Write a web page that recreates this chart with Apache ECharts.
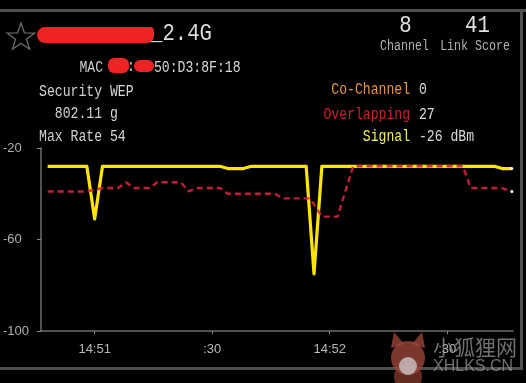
<!DOCTYPE html>
<html><head><meta charset="utf-8">
<script src="https://cdn.jsdelivr.net/npm/echarts@6/dist/echarts.min.js"></script>
<style>html,body{margin:0;padding:0;background:#000;}#c{width:526px;height:383px;}</style>
</head><body><div id="c"></div>
<script>
// time in seconds relative to 14:51:00
const tickTimes = [0, 30, 60, 90];
const tickLabels = ['14:51', ':30', '14:52', ':30'];

const signalTimes  = [-12, -2, 0, 2, 32, 34, 38, 40, 54, 56, 58, 102, 104, 106.5];
const signalValues = [-28, -28, -51, -28, -28, -29, -29, -28, -28, -75, -28, -28, -29, -29];

const noiseTimes  = [-12, -2, 2, 6, 8, 10, 14, 16, 22, 24, 26, 32, 34, 46, 48, 55, 58, 62, 66, 94, 96, 104, 106.5];
const noiseValues = [-39, -39, -37.5, -37.5, -35, -37.5, -37.5, -35, -35, -39, -37.5, -37.5, -40, -40, -42, -42, -50, -50, -28, -28, -37.5, -37.5, -39];

function toData(ts, vs) {
  return ts.map((t, i) => [t, vs[i]]);
}

const chart = echarts.init(document.getElementById('c'), null, {renderer: 'canvas'});

function txt(text, x, y, size, color, align, sx, family) {
  return {
    type: 'text', x: x, y: y, scaleX: sx || 1, z: 10,
    style: {
      text: text, x: 0, y: 0,
      font: size + 'px ' + (family || '"Liberation Mono", monospace'),
      fill: color, align: align || 'left', verticalAlign: 'middle'
    }
  };
}

// star outline
const starPts = [];
for (let k = 0; k < 10; k++) {
  const r = k % 2 === 0 ? 14.5 : 5.8;
  const a = -Math.PI / 2 + k * Math.PI / 5;
  starPts.push([21 + r * Math.cos(a), 37.5 + r * Math.sin(a)]);
}

const S = 0.82;
const graphics = [
  {type: 'rect', shape: {x: 0, y: 9, width: 526, height: 3}, style: {fill: '#4e4e4e'}},
  {type: 'rect', shape: {x: 520, y: 9, width: 3, height: 361}, style: {fill: '#4e4e4e'}},
  {type: 'rect', shape: {x: 0, y: 367, width: 523, height: 3}, style: {fill: '#4e4e4e'}},
  {type: 'polygon', shape: {points: starPts}, style: {fill: 'none', stroke: '#6a6a6a', lineWidth: 1.3}},
  txt('_2.4G', 150, 34, 24, '#dcdcdc', 'left', 0.86),
  {type: 'rect', z: 11, shape: {x: 37, y: 27, width: 117, height: 16, r: [8, 4, 7, 8]}, style: {fill: '#ee2424'}},
  txt('8', 405.5, 26, 23, '#e0e0e0', 'center', 0.9),
  txt('41', 477.5, 26, 23, '#e0e0e0', 'center', 0.9),
  txt('Channel', 404.5, 46, 14, '#b4b4b4', 'center', 0.83),
  txt('Link Score', 475, 46, 14, '#b4b4b4', 'center', 0.83),
  txt('MAC', 103, 68, 16, '#d0d0d0', 'right', S),
  txt(':', 131, 67, 16, '#d0d0d0', 'center', S),
  txt('50:D3:8F:18', 154, 68, 16, '#d8d8d8', 'left', S),
  {type: 'rect', z: 11, shape: {x: 108, y: 58, width: 21, height: 15, r: 6}, style: {fill: '#ee2424'}},
  {type: 'rect', z: 11, shape: {x: 134, y: 60, width: 20, height: 12, r: 6}, style: {fill: '#ee2424'}},
  txt('Security', 102, 92, 16, '#d0d0d0', 'right', S),
  txt('WEP', 110, 92, 16, '#d8d8d8', 'left', S),
  txt('802.11', 102, 114, 16, '#d0d0d0', 'right', S),
  txt('g', 110, 114, 16, '#d8d8d8', 'left', S),
  txt('Max Rate', 102, 137, 16, '#d0d0d0', 'right', S),
  txt('54', 110, 137, 16, '#d8d8d8', 'left', S),
  txt('Co-Channel', 410, 90, 16, '#ec9440', 'right', S),
  txt('0', 419, 90, 16, '#d8d8d8', 'left', S),
  txt('Overlapping', 410, 115, 16, '#d0202c', 'right', S),
  txt('27', 419, 115, 16, '#d8d8d8', 'left', S),
  txt('Signal', 410, 137, 16, '#f4f050', 'right', S),
  txt('-26 dBm', 419, 137, 16, '#d8d8d8', 'left', S),
  // watermark (fox head + site name)
  {type: 'polygon', z: 20, shape: {points: [[391, 348], [394, 332], [404, 344]]}, style: {fill: '#a44a3c', opacity: 0.75}},
  {type: 'polygon', z: 20, shape: {points: [[425, 348], [422, 332], [412, 344]]}, style: {fill: '#a44a3c', opacity: 0.75}},
  {type: 'circle', z: 20, shape: {cx: 408, cy: 358}, style: {fill: '#a44a3c', opacity: 0.75}, shape: {cx: 408, cy: 358, r: 17}},
  {type: 'circle', z: 20, shape: {cx: 408, cy: 377, r: 14}, style: {fill: '#8c3e32', opacity: 0.7}},
  {type: 'circle', z: 21, shape: {cx: 408, cy: 366, r: 9}, style: {fill: '#d0d0d0', opacity: 0.75}},
  txt('小狐狸网', 433, 347, 21, 'rgba(150,150,150,0.75)', 'left', 1, '"Noto Sans CJK SC", sans-serif'),
  txt('XHLKS.CN', 433, 367, 16, 'rgba(150,150,150,0.75)', 'left', 1, '"Liberation Sans", sans-serif')
];

const lastIdx = (arr) => arr.length - 1;

chart.setOption({
  backgroundColor: '#000',
  animation: false,
  grid: {left: 39, right: 13, top: 148, bottom: 52},
  xAxis: {
    type: 'value', min: -13.7, max: 106.8,
    axisLine: {show: true, onZero: false, lineStyle: {color: '#6e6e6e', width: 1.5}},
    axisTick: {show: true, length: 3, customValues: tickTimes, lineStyle: {color: '#8a8a8a'}},
    axisLabel: {
      customValues: tickTimes, margin: 12,
      formatter: (v) => tickLabels[tickTimes.indexOf(v)],
      color: '#b8b8b8', fontSize: 13, fontFamily: '"Liberation Sans", sans-serif'
    },
    splitLine: {show: false}
  },
  yAxis: {
    type: 'value', min: -100, max: -20, interval: 40,
    axisLine: {show: true, onZero: false, lineStyle: {color: '#6e6e6e', width: 1.5}},
    axisTick: {show: true, length: 4, lineStyle: {color: '#8a8a8a'}},
    axisLabel: {align: 'left', margin: 38, color: '#b0b0b0', fontSize: 13, fontFamily: '"Liberation Sans", sans-serif'},
    splitLine: {show: false}
  },
  series: [
    {
      type: 'line', z: 3, data: toData(signalTimes, signalValues),
      symbol: 'circle',
      symbolSize: (v, p) => p.dataIndex === lastIdx(signalTimes) ? 3 : 0,
      itemStyle: {color: '#ffffff'},
      lineStyle: {color: '#ffe400', width: 3.2, join: 'round'}
    },
    {
      type: 'line', z: 4, data: toData(noiseTimes, noiseValues),
      symbol: 'circle',
      symbolSize: (v, p) => p.dataIndex === lastIdx(noiseTimes) ? 3 : 0,
      itemStyle: {color: '#ffffff'},
      lineStyle: {color: '#d8203e', width: 2.4, type: [6, 4], opacity: 0.9}
    }
  ],
  graphic: graphics
});
</script>
</body></html>
